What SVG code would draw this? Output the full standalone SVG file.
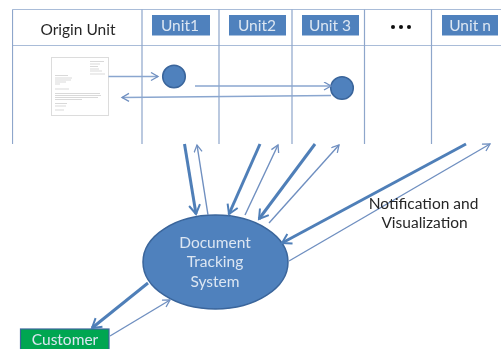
<svg xmlns="http://www.w3.org/2000/svg" width="501" height="349" viewBox="0 0 501 349">
<style>
.grid{stroke:#a9bcd8;stroke-width:1.2;fill:none}
.gridv{stroke:#8ea6cb;stroke-width:1.2;fill:none}
.up{stroke:#6f8fc0;stroke-width:1.4;fill:none;marker-end:url(#ah)}
.down{stroke:#4f7fb8;stroke-width:3;fill:none;marker-end:url(#ahb)}
.flow{stroke:#8aa6cf;stroke-width:1.3;fill:none;marker-end:url(#ah)}
.blue{fill:#4f81bd}
.node{fill:#4f81bd;stroke:#3a659b;stroke-width:1.5}
.u{font:15.5px Lato,"Liberation Sans",sans-serif;fill:#dce6f2;text-anchor:middle}
.k{font:15.5px Lato,"Liberation Sans",sans-serif;fill:#262626;text-anchor:middle}
.d{font:15.5px Lato,"Liberation Sans",sans-serif;fill:#dce6f2;text-anchor:middle}
.ln{stroke:#c8c8c8;stroke-width:.7}
</style>
<defs>
<marker id="ah" markerUnits="userSpaceOnUse" markerWidth="10" markerHeight="10" refX="8" refY="4.500" orient="auto"><path d="M1 0.500L8 4.500L1 8.500" fill="none" stroke="#6f8fc0" stroke-width="1.3"/></marker>
<marker id="ahb" markerUnits="userSpaceOnUse" markerWidth="14" markerHeight="14" refX="11" refY="6.500" orient="auto"><path d="M2 1L11 6.500L2 12" fill="none" stroke="#4f7fb8" stroke-width="2"/></marker>
<filter id="soft" x="0" y="0" width="100%" height="100%"><feGaussianBlur stdDeviation="0.45"/></filter>
</defs>
<rect width="501" height="349" fill="#fff"/>
<g filter="url(#soft)">
<g id="table">
<path class="grid" d="M12.500 9.500H501M12.500 45.500H501"/>
<path class="gridv" d="M12.500 9.500V144M142 9.500V144M219 9.500V144M292 9.500V144M364.500 9.500V144M431.500 9.500V144"/>
</g>
<g id="origin-unit"><text class="k" x="78" y="34.500">Origin Unit</text></g>
<g id="unit1"><rect class="blue" x="152" y="15" width="58" height="20.500"/><text class="u" x="180" y="31">Unit1</text></g>
<g id="unit2"><rect class="blue" x="229" y="15" width="57" height="20.500"/><text class="u" x="257" y="31">Unit2</text></g>
<g id="unit3"><rect class="blue" x="302" y="15" width="57" height="20.500"/><text class="u" x="330" y="31">Unit 3</text></g>
<g id="dots"><circle cx="393" cy="27" r="2" fill="#111"/><circle cx="401" cy="27" r="2" fill="#111"/><circle cx="409" cy="27" r="2" fill="#111"/></g>
<g id="unitn"><rect class="blue" x="442" y="15" width="56" height="20.500"/><text class="u" x="470" y="31">Unit n</text></g>
<g id="document">
<rect x="51.500" y="57.500" width="57" height="58" fill="#fff" stroke="#dcdcdc"/>
<path class="ln" d="M90 61.500H104M90 64H100M90 66.500H98M90 69H99M90 71H102M90 74H105M55 75.500H68M55 78H72M55 80H71M55 82H66M55 84H60M55 89H69M55 93.500H100M55 95.500H101M55 97.500H98M55 99.500H82M55 103.500H67M55 106H66M55 110H64"/>
</g>
<g id="step1"><circle class="node" cx="174" cy="76.500" r="11.300"/></g>
<g id="step3"><circle class="node" cx="342" cy="88" r="11.300"/></g>
<g id="tracking-system"><ellipse class="node" cx="215.500" cy="262" rx="72.500" ry="47"/>
<text class="d" x="215" y="248">Document</text><text class="d" x="215" y="267">Tracking</text><text class="d" x="215" y="287">System</text></g>
<g id="customer"><rect x="20.500" y="329" width="88.500" height="21" fill="#00a651" stroke="#3a659b" stroke-width="1.200"/><text class="d" x="65" y="345">Customer</text></g>
<g id="connectors">
<path class="flow" d="M108.500 76.500H158"/>
<path class="flow" d="M195 86H331"/>
<path class="flow" d="M331 95.500L122 97.500"/>
<path class="down" d="M184.500 144L196 214"/>
<path class="up" d="M208 215L197 145"/>
<path class="down" d="M260 144L229 214"/>
<path class="up" d="M245 215L278 145"/>
<path class="down" d="M315 144L259 219"/>
<path class="up" d="M269 223L339 145"/>
<path class="down" d="M466 144L282 243"/>
<path class="up" d="M289 261L490 144"/>
<path class="down" d="M148 283L92 328"/>
<path class="up" d="M110 336L170 300"/>
</g>
<g id="notification-label"><text class="k" x="423.500" y="209">Notification and</text><text class="k" x="424.500" y="228">Visualization</text></g>
</g>
</svg>
